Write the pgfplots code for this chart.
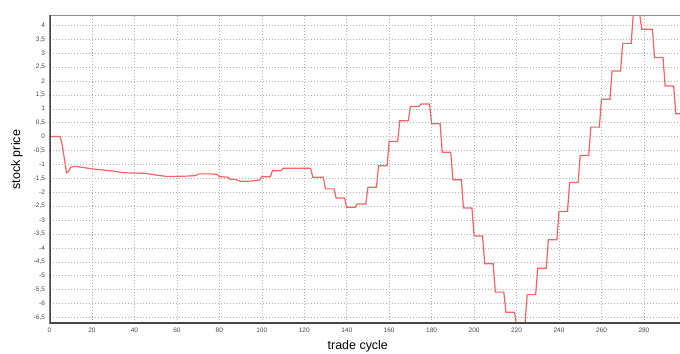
\documentclass[border=0pt]{standalone}
\usepackage{pgfplots}
\pgfplotsset{compat=1.18}
\usepackage{fontspec}
\setmainfont{Liberation Sans}
\definecolor{linered}{RGB}{245,100,100}
\definecolor{gridgray}{RGB}{175,175,175}
\definecolor{axisdark}{RGB}{70,70,70}
\definecolor{ticktext}{RGB}{70,70,70}
\begin{document}
\begin{tikzpicture}
\begin{axis}[
  scale only axis,
  width=630.5bp, height=308bp,
  xmin=0, xmax=297,
  ymin=-6.7, ymax=4.37,
  xtick={0,20,...,280},
  ytick={-6.5,-6,...,4},
  grid=major,
  major grid style={gridgray, line width=0.5bp, dash pattern=on 1bp off 2bp},
  axis line style={draw=none},
  tick style={draw=none},
  /pgf/number format/assume math mode=true,
  /pgf/number format/use comma,
  /pgf/number format/fixed,
  ticklabel style={font=\fontsize{6.5}{7}\selectfont, text=ticktext},
  xticklabel style={yshift=-1bp},
  yticklabel style={xshift=-1bp},
  xlabel={trade cycle},
  ylabel={stock price},
  label style={font=\fontsize{12.5}{14}\selectfont},
  xlabel style={at={([yshift=-23bp]rel axis cs:0.489,0)}, anchor=center},
  ylabel style={at={([xshift=-32.5bp]rel axis cs:0,0.53)}, anchor=center},
  clip=true,
]
\addplot[linered, line width=1.2bp] coordinates {
(0,0) (5,0) (6,-0.3) (7,-0.8) (8,-1.3) (9,-1.25) (10,-1.1) (12,-1.07) (15,-1.1)
(20,-1.16) (25,-1.2) (30,-1.24) (35,-1.3) (40,-1.31) (45,-1.32) (50,-1.38)
(55,-1.43) (60,-1.43) (65,-1.42) (69,-1.4) (70,-1.34) (76,-1.34) (79,-1.36)
(80,-1.44) (84,-1.46) (85,-1.53) (88,-1.55) (90,-1.61) (95,-1.6) (99,-1.56)
(100,-1.44) (104,-1.44) (105,-1.23) (109,-1.23) (110,-1.14) (123,-1.14)
(124,-1.46) (129,-1.46) (130,-1.88) (134,-1.88) (135,-2.21) (139,-2.21)
(140,-2.54) (144,-2.54) (145,-2.42) (149,-2.42) (150,-1.82) (154,-1.82)
(155,-1.05) (159,-1.05) (160,-0.18) (164,-0.18) (165,0.57) (169,0.57)
(170,1.08) (174,1.08) (175,1.17) (179,1.17) (180,0.46) (184,0.46)
(185,-0.56) (189,-0.56) (190,-1.55) (194,-1.55) (195,-2.57) (199,-2.57)
(200,-3.57) (204,-3.57) (205,-4.57) (209,-4.57) (210,-5.59) (214,-5.59)
(215,-6.31) (219,-6.31) (220,-6.75) (224,-6.75) (225,-5.68) (229,-5.68)
(230,-4.73) (234,-4.73) (235,-3.71) (239,-3.71) (240,-2.69) (244,-2.69)
(245,-1.65) (249,-1.65) (250,-0.68) (254,-0.68) (255,0.34) (259,0.34)
(260,1.34) (264,1.34) (265,2.36) (269,2.36) (270,3.35) (274,3.35)
(275,4.4) (278,4.4) (279,3.86) (284,3.86) (285,2.84) (289,2.84)
(290,1.82) (294,1.82) (295,0.82) (297,0.82)
};
\draw[gridgray!80!black, line width=1bp] (rel axis cs:0,1) -- (rel axis cs:1,1);
\draw[axisdark, line width=2bp] (rel axis cs:0,0) -- (rel axis cs:0,1);
\draw[axisdark, line width=2bp] (rel axis cs:0,0) -- (rel axis cs:1,0);
\end{axis}
\pgfresetboundingbox
\path[use as bounding box] (-49.5bp,-31bp) rectangle (630.5bp,323bp);
\end{tikzpicture}
\end{document}
